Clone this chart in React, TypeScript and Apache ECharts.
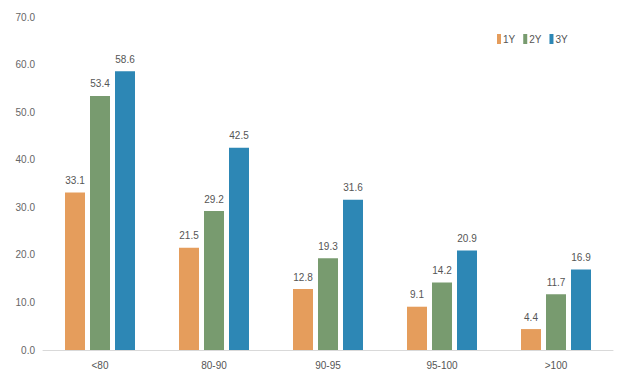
import React, { useEffect, useRef } from "react";
import * as echarts from "echarts";

const categories = ["<80", "80-90", "90-95", "95-100", ">100"];
const series1Y = [33.1, 21.5, 12.8, 9.1, 4.4];
const series2Y = [53.4, 29.2, 19.3, 14.2, 11.7];
const series3Y = [58.6, 42.5, 31.6, 20.9, 16.9];
const seriesNames = ["1Y", "2Y", "3Y"];
const colors = ["#E59D5C", "#789B6F", "#2D87B5"];

export default function App() {
  const ref = useRef<HTMLDivElement>(null);
  useEffect(() => {
    if (!ref.current) return;
    const chart = echarts.init(ref.current, undefined, { renderer: "svg" });
    const data = [series1Y, series2Y, series3Y];
    chart.setOption({
      animation: false,
      textStyle: { fontFamily: "Liberation Sans, Arial, sans-serif" },
      legend: {
        left: 484,
        top: 21,
        itemWidth: 4,
        itemHeight: 10,
        itemGap: 8,
        icon: "rect",
        textStyle: { fontSize: 10, color: "#555", padding: [0, 0, 0, -3] },
        data: seriesNames,
      },
      grid: { left: 35, right: 14, top: 9, bottom: 20, containLabel: false },
      xAxis: {
        type: "category",
        data: categories,
        axisLine: { lineStyle: { color: "#d9d9d9" } },
        axisTick: { show: false },
        axisLabel: { color: "#555", fontSize: 10, margin: 10 },
      },
      yAxis: {
        type: "value",
        min: 0,
        max: 70,
        interval: 10,
        splitLine: { show: false },
        axisLine: { show: false },
        axisTick: { show: false },
        axisLabel: {
          color: "#666",
          fontSize: 10,
          margin: 8,
          formatter: (v: number) => v.toFixed(1),
        },
      },
      series: seriesNames.map((name, i) => ({
        name,
        type: "bar",
        data: data[i],
        barWidth: 20,
        barGap: "25%",
        itemStyle: { color: colors[i] },
        label: {
          show: true,
          position: "top",
          distance: 7,
          color: "#555",
          fontSize: 10,
          formatter: (p: any) => p.value.toFixed(1),
        },
      })),
    });
    return () => chart.dispose();
  }, []);
  return <div ref={ref} style={{ width: 619, height: 362 }} />;
}
